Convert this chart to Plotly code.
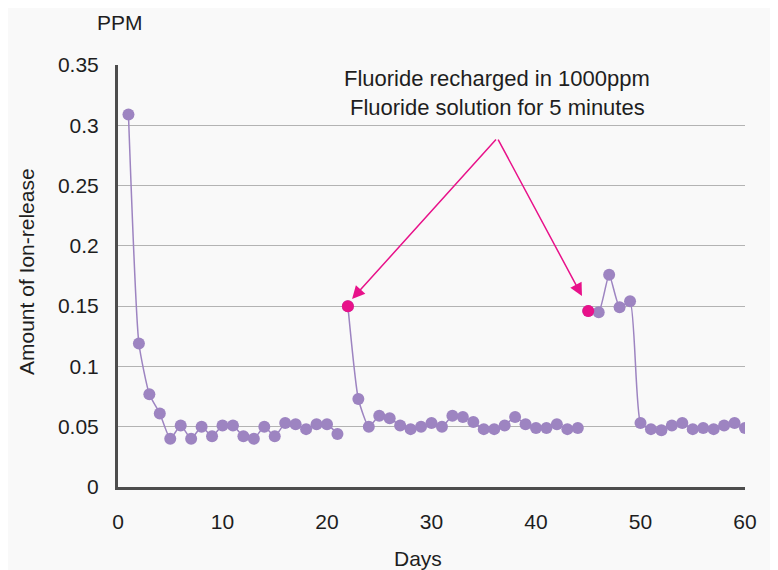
import plotly.graph_objects as go

# ---- data ----
days_seg1 = list(range(1, 22))
ppm_seg1 = [0.309, 0.119, 0.077, 0.061, 0.040, 0.051, 0.040, 0.050, 0.042, 0.051,
            0.051, 0.042, 0.040, 0.050, 0.042, 0.053, 0.052, 0.048, 0.052, 0.052, 0.044]
days_seg2 = list(range(22, 45))
ppm_seg2 = [0.150, 0.073, 0.050, 0.059, 0.057, 0.051, 0.048, 0.050, 0.053, 0.050,
            0.059, 0.058, 0.054, 0.048, 0.048, 0.051, 0.058, 0.052, 0.049, 0.049,
            0.052, 0.048, 0.049]
days_seg3 = list(range(45, 61))
ppm_seg3 = [0.146, 0.145, 0.176, 0.149, 0.154, 0.053, 0.048, 0.047, 0.051, 0.053,
            0.048, 0.049, 0.048, 0.051, 0.053, 0.049]
recharge_days = [22, 45]
recharge_ppm = [0.150, 0.146]
x_ticks = [0, 10, 20, 30, 40, 50, 60]
y_ticks = [0, 0.05, 0.1, 0.15, 0.2, 0.25, 0.3, 0.35]
y_tick_labels = ["0", "0.05", "0.1", "0.15", "0.2", "0.25", "0.3", "0.35"]

PURPLE = "#9d84c1"
PINK = "#e8128a"
FONT = "Liberation Sans, Arial, sans-serif"
TXT = "#1e1e1e"

fig = go.Figure()
for dx, dy in [(days_seg1, ppm_seg1), (days_seg2, ppm_seg2), (days_seg3, ppm_seg3)]:
    fig.add_trace(go.Scatter(
        x=dx, y=dy, mode="lines+markers",
        line=dict(color=PURPLE, width=1.5, shape="spline", smoothing=0.5),
        marker=dict(color=PURPLE, size=12),
        showlegend=False, hoverinfo="x+y"))
fig.add_trace(go.Scatter(
    x=recharge_days, y=recharge_ppm, mode="markers",
    marker=dict(color=PINK, size=12), showlegend=False))

# arrows
for hx, hy in [(22.4, 0.1559), (44.4, 0.1584)]:
    fig.add_annotation(x=hx, y=hy, ax=36.3, ay=0.2894, xref="x", yref="y",
                       axref="x", ayref="y", text="", showarrow=True,
                       arrowhead=2, arrowsize=1.7, arrowwidth=1.5, arrowcolor=PINK)

# page pixel -> paper fraction (plot area spans page x 118..745, y 65..487)
def pa(text, px, py, size=21, angle=0):
    fig.add_annotation(text=text, xref="paper", yref="paper",
                       x=(px - 118) / 627, y=(487 - py) / 422,
                       xanchor="center", yanchor="middle", showarrow=False,
                       textangle=angle, font=dict(family=FONT, size=size, color=TXT))

pa("Fluoride recharged in 1000ppm", 497, 78, size=22)
pa("Fluoride solution for 5 minutes", 497, 107, size=22)
pa("PPM", 120, 23)
pa("Amount of Ion-release", 26, 272, angle=-90)
pa("Days", 418, 558)

# page has an 8px body margin, so the figure is 770x562 drawn at (8,8)
fig.update_layout(
    width=770, height=562,
    margin=dict(l=110, r=33, t=57, b=83),
    paper_bgcolor="#f9f9f9", plot_bgcolor="rgba(0,0,0,0)",
    font=dict(family=FONT, size=21, color=TXT),
    showlegend=False,
)
fig.update_xaxes(range=[0, 60], tickvals=x_ticks, showgrid=False, zeroline=False,
                 showline=True, linecolor="#4d4d4d", linewidth=3,
                 ticks="outside", ticklen=14, tickcolor="rgba(0,0,0,0)",
                 tickfont=dict(family=FONT, size=21, color=TXT))
fig.update_yaxes(range=[0, 0.35], tickvals=y_ticks, ticktext=y_tick_labels,
                 showgrid=True, gridcolor="#b3b3b3", gridwidth=1, zeroline=False,
                 showline=True, linecolor="#4d4d4d", linewidth=3,
                 ticks="outside", ticklen=12, tickcolor="rgba(0,0,0,0)",
                 tickfont=dict(family=FONT, size=21, color=TXT))

fig.write_html("out.html")
